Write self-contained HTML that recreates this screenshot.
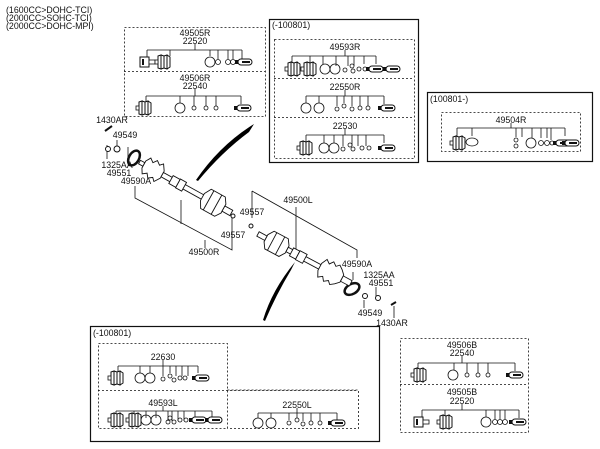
<!DOCTYPE html>
<html><head><meta charset="utf-8"><style>
html,body{margin:0;padding:0;background:#fff;}
svg{display:block;}
text{font-family:"Liberation Sans",sans-serif;font-size:8.8px;fill:#111;}
</style></head><body>
<svg width="600" height="449" viewBox="0 0 600 449" xmlns="http://www.w3.org/2000/svg">
<defs>
<g id="boot"><path d="M0,-6 L3,-7 L3,7 L0,6 Z M3,-7 L6,-6 L6,6 L3,7 M6,-6 L9,-7 L9,7 L6,6 M9,-7 L12,-5 L12,5 L9,7" fill="#fff" stroke="#111" stroke-width="1"/><rect x="-3" y="-2" width="3" height="4" fill="#fff" stroke="#111" stroke-width="0.8"/></g>
<g id="clamp"><rect x="0" y="-3" width="14" height="6" rx="3" fill="#fff" stroke="#111" stroke-width="1"/><rect x="4" y="-1" width="8" height="2" fill="#111"/><rect x="-3" y="-2" width="3" height="4" fill="#111"/></g>
<g id="joint"><rect x="0" y="-5" width="9" height="10" fill="#fff" stroke="#111"/><rect x="2" y="-3" width="2" height="6" fill="#111"/><rect x="9" y="-2" width="6" height="4" fill="#fff" stroke="#111" stroke-width="0.8"/></g>
</defs>
<g fill="none" stroke="#111" stroke-width="0.8">
<rect x="124.5" y="27.5" width="141" height="89" stroke-dasharray="2,2"/>
<line x1="124" y1="71.5" x2="265" y2="71.5" stroke-dasharray="2,2"/>
<rect x="269.5" y="19.5" width="149" height="143" stroke-width="1.2"/>
<rect x="274.5" y="39.5" width="140" height="119" stroke-dasharray="2,2"/>
<line x1="274" y1="78.5" x2="414" y2="78.5" stroke-dasharray="2,2"/>
<line x1="274" y1="117.5" x2="414" y2="117.5" stroke-dasharray="2,2"/>
<rect x="427.5" y="92.5" width="165" height="69" stroke-width="1.2"/>
<rect x="441.5" y="112.5" width="139" height="39" stroke-dasharray="2,2"/>
<rect x="90.5" y="326.5" width="289" height="115" stroke-width="1.2"/>
<rect x="98.5" y="343.5" width="129" height="85" stroke-dasharray="2,2"/>
<line x1="98" y1="390.5" x2="358" y2="390.5" stroke-dasharray="2,2"/>
<polyline points="227.5,390 358.5,390 358.5,428.5 227.5,428.5" stroke-dasharray="2,2"/>
<rect x="400.5" y="338.5" width="128" height="94" stroke-dasharray="2,2"/>
<line x1="400" y1="384.5" x2="528" y2="384.5" stroke-dasharray="2,2"/>

<line x1="195" y1="44" x2="195" y2="50"/><line x1="147" y1="50" x2="242" y2="50"/>
<path d="M147,50V58 M170,50V56 M210,50V56 M218,50V59 M228,50V59 M233,50V59 M242,50V59"/>
<circle cx="210" cy="62" r="5"/><circle cx="218" cy="62" r="2.5"/><circle cx="228" cy="62" r="2.5"/><circle cx="233" cy="62" r="2.5"/>
<line x1="195" y1="89" x2="195" y2="96"/><line x1="146" y1="96" x2="241" y2="96"/>
<path d="M146,96V104 M180,96V103 M194,96V106 M206,96V106 M216,96V106 M241,96V104"/>
<circle cx="180" cy="108" r="5"/><circle cx="194" cy="108" r="2"/><circle cx="206" cy="108" r="2"/><circle cx="216" cy="108" r="2"/>
<line x1="345" y1="50" x2="345" y2="56"/><line x1="292" y1="56" x2="376" y2="56"/>
<path d="M292,56V64 M310,56V64 M323,56V64 M336,56V66 M348,56V66 M354,56V66 M364,56V64 M376,56V64"/>
<circle cx="325" cy="69" r="5"/><circle cx="335" cy="69" r="5"/><circle cx="345" cy="70" r="2"/><circle cx="352" cy="66" r="2"/><circle cx="353" cy="71" r="2"/><circle cx="359" cy="69" r="2"/><circle cx="365" cy="69" r="2"/>
<line x1="345" y1="90" x2="345" y2="96"/><line x1="306" y1="96" x2="384" y2="96"/>
<path d="M306,96V103 M319,96V103 M337,96V106 M344,96V103 M352,96V106 M360,96V106 M368,96V106 M384,96V104"/>
<circle cx="306" cy="108" r="5"/><circle cx="319" cy="108" r="5"/><circle cx="337" cy="109" r="2"/><circle cx="344" cy="106" r="2"/><circle cx="352" cy="109" r="2"/><circle cx="360" cy="108" r="2"/><circle cx="368" cy="108" r="2"/>
<line x1="345" y1="129" x2="345" y2="135"/><line x1="306" y1="135" x2="384" y2="135"/>
<path d="M306,135V142 M324,135V143 M334,135V143 M343,135V146 M352,135V146 M358,135V146 M366,135V146 M384,135V143"/>
<circle cx="324" cy="148" r="5"/><circle cx="334" cy="148" r="5"/><circle cx="343" cy="149" r="2"/><circle cx="350" cy="145" r="2"/><circle cx="353" cy="149" r="2"/><circle cx="362" cy="148" r="2"/><circle cx="369" cy="148" r="2"/>
<line x1="511" y1="123" x2="511" y2="128"/><line x1="457" y1="128" x2="565" y2="128"/>
<path d="M457,128V136 M472,128V136 M516,128V137 M522,128V137 M532,128V138 M541,128V138 M547,128V138 M551,128V140 M565,128V136"/>
<circle cx="516" cy="140" r="2"/><circle cx="516" cy="146" r="2"/><circle cx="531" cy="143" r="5"/><circle cx="541" cy="143" r="2.5"/><circle cx="547" cy="143" r="2.5"/><circle cx="552" cy="143" r="2"/>
<ellipse cx="472" cy="142" rx="6" ry="4"/>
<line x1="163" y1="360" x2="163" y2="366"/><line x1="118" y1="366" x2="198" y2="366"/>
<path d="M118,366V373 M140,366V373 M150,366V373 M163,366V376 M170,366V373 M176,366V376 M182,366V376 M188,366V376 M198,366V373"/>
<circle cx="140" cy="378" r="5"/><circle cx="150" cy="378" r="5"/><circle cx="163" cy="379" r="2"/><circle cx="170" cy="376" r="2"/><circle cx="174" cy="380" r="2"/><circle cx="180" cy="378" r="2"/><circle cx="185" cy="378" r="2"/>
<line x1="163" y1="406" x2="163" y2="411"/><line x1="116" y1="411" x2="212" y2="411"/>
<path d="M116,411V418 M134,411V418 M146,411V418 M156,411V418 M168,411V421 M172,411V421 M178,411V421 M184,411V421 M195,411V418 M212,411V418"/>
<circle cx="146" cy="420" r="5"/><circle cx="156" cy="420" r="5"/><circle cx="168" cy="422" r="2"/><circle cx="170" cy="418" r="2"/><circle cx="174" cy="422" r="2"/><circle cx="180" cy="420" r="2"/><circle cx="186" cy="420" r="2"/>
<line x1="297" y1="408" x2="297" y2="413"/><line x1="258" y1="413" x2="337" y2="413"/>
<path d="M258,413V418 M271,413V418 M289,413V420 M297,413V418 M303,413V421 M311,413V421 M320,413V421 M337,413V420"/>
<circle cx="258" cy="423" r="5"/><circle cx="271" cy="423" r="5"/><circle cx="289" cy="423" r="2"/><circle cx="297" cy="420" r="2"/><circle cx="303" cy="424" r="2"/><circle cx="311" cy="423" r="2"/><circle cx="320" cy="423" r="2"/>
<line x1="462" y1="356" x2="462" y2="363"/><line x1="418" y1="363" x2="515" y2="363"/>
<path d="M418,363V370 M454,363V370 M467,363V373 M478,363V373 M488,363V373 M515,363V371"/>
<circle cx="453" cy="375" r="5"/><circle cx="467" cy="375" r="2"/><circle cx="478" cy="375" r="2"/><circle cx="488" cy="375" r="2"/>
<line x1="462" y1="404" x2="462" y2="410"/><line x1="422" y1="410" x2="519" y2="410"/>
<path d="M422,410V418 M445,410V417 M486,410V417 M495,410V419 M500,410V419 M505,410V419 M519,410V418"/>
<circle cx="486" cy="422" r="5"/><circle cx="495" cy="422" r="2.5"/><circle cx="500" cy="422" r="2.5"/><circle cx="505" cy="422" r="2.5"/>

<path d="M135,186V198 L232,250 V217 M181,200V224 M205,240V248"/>
<path d="M252,191V218 M252,191 L357,250 V258 M296,207V252"/>
<path d="M117,140V146 M107,145V159 M128,147V162"/>
<path d="M364,300V308 M376,287V297 M394,306 V318 M353,272V280"/>
</g>
<g stroke="#111" fill="#fff">
<line x1="105" y1="131" x2="112" y2="126" stroke-width="2"/>
<circle cx="117" cy="149" r="3"/><circle cx="108" cy="149" r="2.5"/>
<ellipse cx="134" cy="158" rx="5" ry="8" transform="rotate(30 134 158)" stroke-width="2.5" fill="none"/>
<ellipse cx="352" cy="289" rx="5" ry="8" transform="rotate(60 352 289)" stroke-width="2.5" fill="none"/>
<circle cx="365" cy="296" r="2.5"/><circle cx="378" cy="298" r="2.5"/>
<line x1="391" y1="305" x2="396" y2="302" stroke-width="2"/>
<circle cx="233" cy="216" r="2"/><circle cx="251" cy="226" r="2"/>
<!-- right shaft -->
<g transform="translate(143,164) rotate(29)" stroke-width="0.9">
<rect x="-4" y="-2" width="5" height="4"/>
<path d="M1,-4 L4,-9 L8,-6 L11,-10 L15,-7 L18,-10 L22,-4 L22,4 L18,10 L15,7 L11,10 L8,6 L4,9 L1,4 Z"/>
<rect x="22" y="-2.5" width="48" height="5"/>
<rect x="32" y="-4.5" width="8" height="9"/>
<rect x="40" y="-5" width="7" height="10"/>
<path d="M68,-4 L72,-11 L88,-11 L92,-5 L92,5 L88,11 L72,11 L68,4 Z"/>
<path d="M75,-11 V11 M84,-11 V11"/>
<rect x="92" y="-3" width="9" height="6"/>
</g>
<!-- left shaft -->
<g transform="translate(258,234) rotate(28)" stroke-width="0.9">
<rect x="0" y="-2.5" width="9" height="5"/>
<path d="M9,-4 L13,-10 L29,-10 L33,-4 L33,4 L29,10 L13,10 L9,4 Z"/>
<path d="M16,-10 V10 M25,-10 V10"/>
<rect x="33" y="-2.5" width="64" height="5"/>
<rect x="38" y="-4.5" width="7" height="9"/>
<rect x="45" y="-5" width="8" height="10"/>
<path d="M70,-4 L73,-10 L77,-7 L80,-11 L84,-8 L87,-11 L91,-8 L95,-4 L95,4 L91,8 L87,11 L84,8 L80,11 L77,7 L73,10 L70,4 Z"/>
<rect x="95" y="-3" width="10" height="6"/>
</g>
</g>
<path d="M196,180 Q220,145 254,124 L249,132 Q222,152 198,181 Z" fill="#000"/>
<path d="M263,320 Q272,290 295,262 L291,270 Q276,295 265,321 Z" fill="#000"/>
<use href="#joint" x="140" y="62"/><use href="#boot" x="158" y="62"/><use href="#clamp" x="238" y="62"/>
<use href="#boot" x="139" y="108"/><use href="#clamp" x="237" y="108"/>
<use href="#boot" x="288" y="69"/><use href="#boot" x="304" y="69"/><use href="#clamp" x="369" y="69"/><use href="#clamp" x="386" y="69"/>
<use href="#clamp" x="381" y="108"/>
<use href="#boot" x="300" y="148"/><use href="#clamp" x="381" y="148"/>
<use href="#boot" x="453" y="143"/><use href="#clamp" x="556" y="143"/><use href="#clamp" x="565" y="143"/>
<use href="#boot" x="111" y="378"/><use href="#clamp" x="195" y="378"/>
<use href="#boot" x="111" y="420"/><use href="#boot" x="129" y="420"/><use href="#clamp" x="192" y="420"/><use href="#clamp" x="208" y="420"/>
<use href="#clamp" x="331" y="423"/>
<use href="#boot" x="414" y="375"/><use href="#clamp" x="509" y="375"/>
<use href="#joint" x="414" y="422"/><use href="#boot" x="440" y="422"/><use href="#clamp" x="512" y="422"/>
<text x="6" y="13">(1600CC&gt;DOHC-TCI)</text>
<text x="6" y="21">(2000CC&gt;SOHC-TCI)</text>
<text x="6" y="29">(2000CC&gt;DOHC-MPI)</text>
<g text-anchor="middle">
<text x="195" y="36">49505R</text><text x="195" y="44">22520</text>
<text x="195" y="81">49506R</text><text x="195" y="89">22540</text>
<text x="345" y="50">49593R</text><text x="345" y="90">22550R</text><text x="345" y="129">22530</text>
<text x="511" y="123">49504R</text>
<text x="163" y="360">22630</text><text x="163" y="406">49593L</text><text x="297" y="408">22550L</text>
<text x="462" y="348">49506B</text><text x="462" y="356">22540</text>
<text x="462" y="395">49505B</text><text x="462" y="404">22520</text>
<text x="112" y="123">1430AR</text><text x="125" y="138">49549</text>
<text x="117" y="168">1325AA</text><text x="119" y="176">49551</text><text x="136" y="184">49590A</text>
<text x="204" y="255">49500R</text><text x="233" y="238">49557</text><text x="252" y="215">49557</text>
<text x="298" y="203">49500L</text><text x="357" y="267">49590A</text>
<text x="379" y="278">1325AA</text><text x="381" y="286">49551</text>
<text x="370" y="316">49549</text><text x="392" y="326">1430AR</text>
</g>
<text x="272" y="28">(-100801)</text>
<text x="430" y="102">(100801-)</text>
<text x="93" y="336">(-100801)</text>
</svg>
</body></html>
